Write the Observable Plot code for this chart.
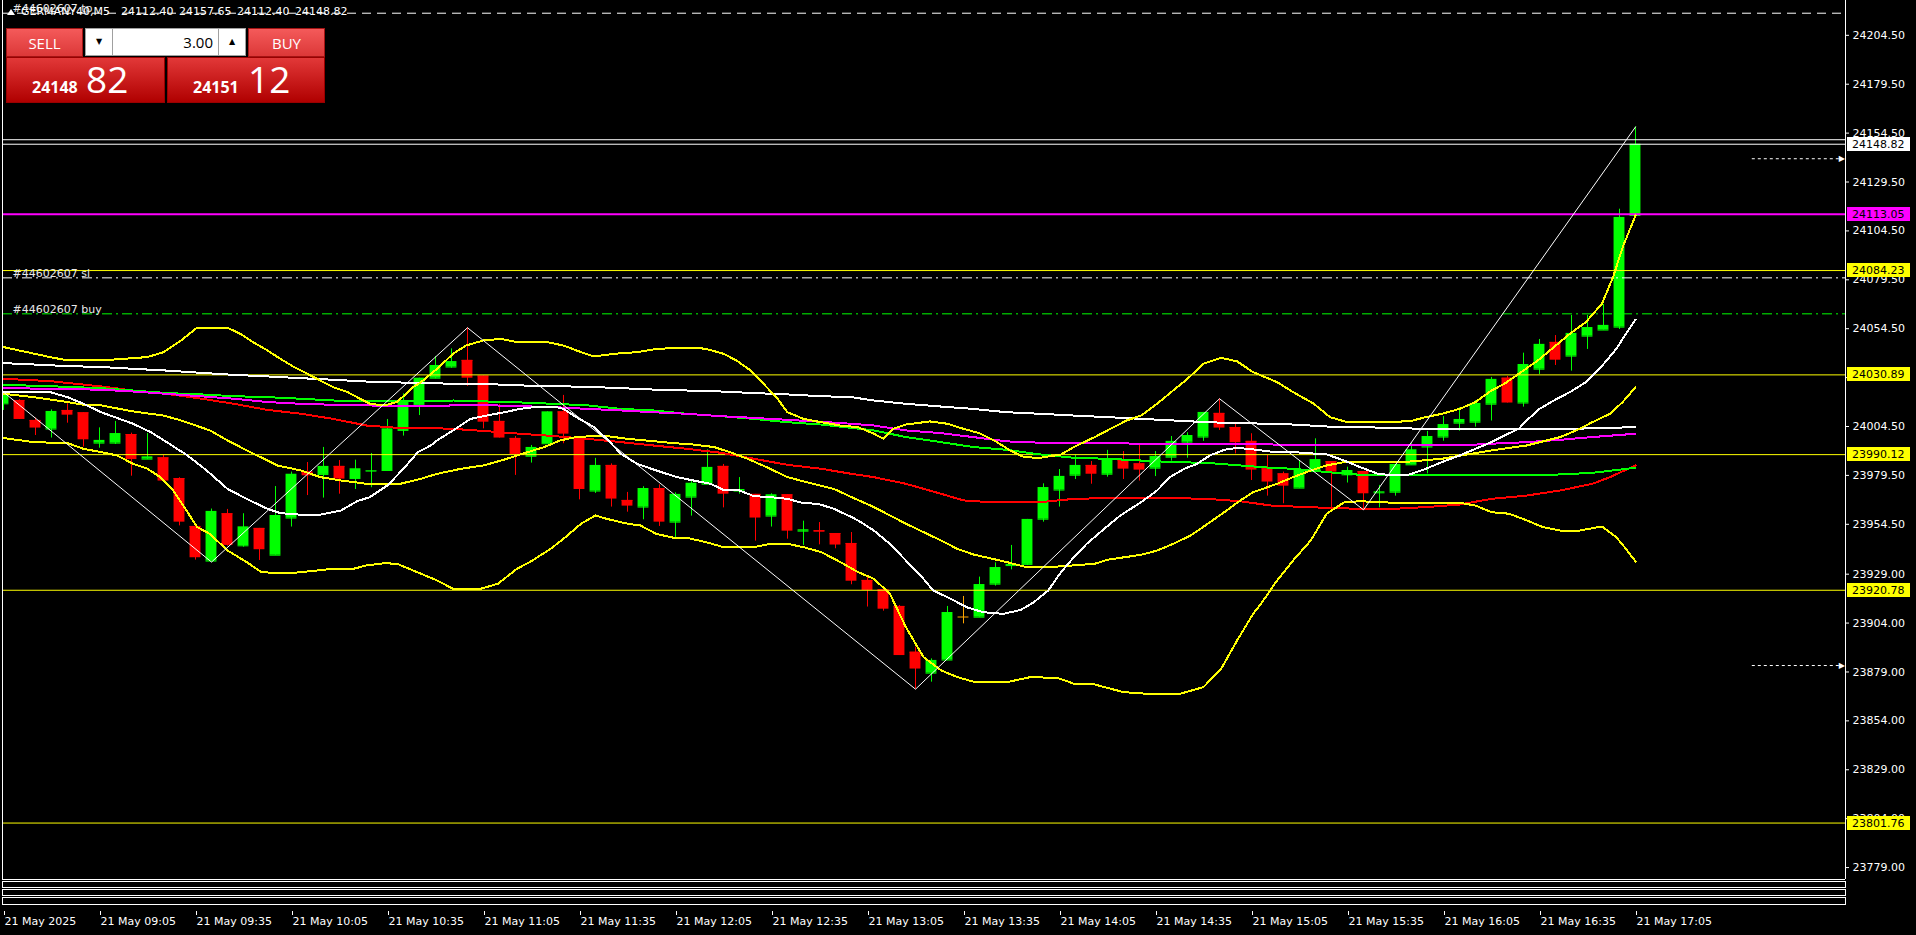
<!DOCTYPE html>
<html>
<head>
<meta charset="utf-8">
<script src="https://cdn.jsdelivr.net/npm/d3@7"></script>
<script src="https://cdn.jsdelivr.net/npm/@observablehq/plot@0.6"></script>
<style>
  html, body { margin:0; padding:0; background:#000; overflow:hidden; }
  #wrap { position:relative; width:1916px; height:935px; background:#000; font-family:"DejaVu Sans", sans-serif; }
  #chart svg { display:block; }
  .hdr { position:absolute; left:21px; top:5px; color:#fff; font-size:11px; line-height:13px; white-space:pre; word-spacing:2px; }
  .tri { position:absolute; left:7px; top:9px; width:0; height:0; border-left:4px solid transparent; border-right:4px solid transparent; border-bottom:6px solid #fff; }
  .sub { position:absolute; left:2px; width:1844px; border:1px solid #fff; box-sizing:border-box; }
  .p { position:absolute; box-sizing:border-box; }
  .btn { top:28px; height:29px; width:77px; background:linear-gradient(#f45a5a,#dc3838); color:#fff; font-family:"Open Sans",sans-serif; font-size:15px; text-align:center; line-height:28px; border:1px solid #a51414; }
  .spin { top:28px; height:28px; width:28px; background:#fff; border:1px solid #a0a0a0; color:#000; text-align:center; font-size:8px; line-height:26px; }
  .lot { left:113px; top:28px; width:105px; height:28px; background:#fff; border-top:1px solid #a0a0a0; border-bottom:1px solid #a0a0a0; text-align:right; padding-right:5px; font-family:"Open Sans",sans-serif; font-size:15px; line-height:27px; color:#000; }
  .pbox { top:57px; height:46px; background:linear-gradient(#e23838,#b00000); border:1px solid #9a0000; color:#fff; font-family:"Open Sans",sans-serif; }
  .small { position:absolute; left:25px; top:21px; font-size:16px; font-weight:bold; line-height:16px; }
  .big { position:absolute; top:2px; font-size:37px; line-height:37px; }
</style>
</head>
<body>
<div id="wrap">
  <div id="chart"></div>
</div>
<script>
// ---------- DATA ----------
const symbolTitle = "GERMANY40,M5  24112.40 24157.65 24112.40 24148.82";
const lotSize = "3.00";
const sellPrice = ["24148", "82"];
const buyPrice = ["24151", "12"];

// Candles, bar index 0 = 21 May 08:35, 5 minutes per bar
const opens  = [24016.1,24017.8,24007.6,24003.2,24012.7,24011.5,23996.0,23996.0,24000.4,23987.8,
                23988.5,23977.9,23953.4,23935.7,23959.9,23943.5,23952.4,23938.7,23957.7,23981.2,
                23980.0,23984.1,23977.9,23981.7,23982.0,24002.5,24015.3,24029.2,24034.9,24038.3,
                24030.3,24007.1,23998.4,23989.3,23995.7,24012.0,23998.7,23971.5,23984.6,23966.7,
                23963.3,23972.8,23955.6,23968.4,23975.0,23984.1,23971.5,23969.8,23958.7,23969.6,
                23951.0,23951.2,23949.8,23944.7,23925.8,23921.0,23912.5,23889.1,23878.4,23885.1,
                23907.1,23907.0,23923.9,23933.4,23934.0,23957.1,23972.0,23979.6,23984.6,23980.1,
                23987.1,23985.4,23983.2,23988.8,23996.5,23999.1,24011.2,24004.0,23996.9,23982.9,
                23980.3,23973.0,23982.0,23986.6,23979.8,23981.5,23970.6,23970.9,23984.9,23994.0,
                23999.1,24006.2,24006.7,24015.9,24029.2,24016.5,24033.8,24047.5,24040.5,24050.7,
                24053.8,24055.3,24112.40];
const highs  = [24022.1,24018.3,24008.8,24013.0,24016.1,24011.5,24003.8,24007.1,24001.1,24000.9,
                23989.7,23978.3,23953.7,23962.3,23962.1,23959.9,23952.4,23973.8,23981.2,23986.1,
                23993.8,23987.1,23987.3,23990.7,24008.1,24021.2,24029.2,24040.3,24044.2,24055.0,
                24030.3,24015.8,23999.4,23994.8,24012.0,24020.4,23999.4,23988.2,23985.4,23970.8,
                23973.7,23974.7,23970.6,23976.9,23992.6,23985.1,23978.4,23969.8,23970.1,23969.6,
                23956.1,23955.4,23949.8,23950.3,23927.8,23922.4,23913.0,23891.7,23885.7,23912.5,
                23917.6,23927.5,23934.8,23943.7,23957.0,23975.2,23982.5,23989.7,23986.6,23992.3,
                23991.7,23995.1,23991.7,23999.4,24001.3,24011.7,24018.7,24005.9,24000.8,23989.7,
                23981.2,23987.1,23998.2,23986.6,23983.7,23981.5,23974.4,23985.1,23995.7,24002.0,
                24009.6,24014.1,24017.8,24029.6,24030.1,24042.0,24049.0,24051.0,24061.3,24061.3,
                24066.9,24115.6,24157.65];
const lows   = [24012.7,24008.1,23999.9,23998.6,24006.2,23994.0,23993.4,23995.3,23979.1,23987.6,
                23976.1,23953.7,23936.2,23935.2,23943.3,23942.8,23936.0,23938.7,23953.1,23969.2,
                23967.9,23969.9,23972.3,23973.2,23981.7,23999.6,24010.1,24028.9,24034.3,24025.0,
                24003.3,23998.6,23979.5,23985.8,23995.7,23995.7,23967.0,23970.3,23963.3,23960.7,
                23956.8,23953.4,23947.4,23958.7,23975.0,23962.9,23969.9,23945.9,23953.1,23946.9,
                23943.7,23944.0,23942.0,23923.6,23912.2,23910.1,23887.4,23870.2,23873.8,23885.1,
                23903.6,23907.0,23922.9,23931.2,23933.4,23955.6,23963.3,23977.4,23975.0,23978.6,
                23977.4,23976.6,23978.9,23986.8,23988.3,23996.9,24002.5,23990.5,23976.9,23968.9,
                23965.0,23973.0,23982.0,23962.9,23975.6,23961.9,23962.9,23968.9,23984.9,23980.3,
                23997.0,24002.1,24004.2,24007.3,24016.5,24014.4,24031.1,24035.7,24032.8,24043.9,
                24053.8,24054.1,24112.40];
const closes = [24020.9,24008.1,24003.7,24012.2,24010.3,23997.7,23997.4,24000.9,23987.6,23989.0,
                23976.6,23955.6,23937.4,23961.1,23943.7,23953.2,23941.5,23959.0,23980.1,23979.3,
                23984.1,23977.6,23982.9,23982.0,24003.3,24017.8,24029.2,24035.7,24037.7,24029.2,
                24006.7,23998.6,23990.2,23993.8,24012.0,24000.6,23972.3,23984.6,23967.4,23963.8,
                23972.8,23955.6,23969.8,23975.5,23983.6,23969.9,23972.3,23957.7,23969.6,23951.0,
                23951.7,23950.5,23943.9,23925.4,23920.7,23911.1,23887.4,23880.5,23884.9,23909.4,
                23907.1,23923.7,23932.4,23934.0,23957.0,23973.3,23979.0,23984.6,23980.1,23987.3,
                23982.7,23982.2,23989.2,23996.9,23999.9,24011.7,24003.7,23996.2,23982.2,23976.1,
                23974.0,23982.4,23987.6,23981.2,23982.0,23970.1,23971.1,23985.1,23992.6,23999.4,
                24005.5,24008.1,24016.3,24028.6,24016.5,24036.2,24046.5,24038.4,24052.1,24055.1,
                24056.2,24111.4,24148.82];

// Indicators: [bar index, price]
const bbUpper = [[0,24045.1],[2.9,24040.0],[4.0,24038.3],[6.1,24038.3],[7.5,24039.1],[9.0,24040.0],[10.0,24042.5],[11.1,24048.5],[12.1,24055.0],[14.0,24055.0],[14.8,24051.9],[15.6,24047.6],[16.5,24043.4],[17.3,24039.1],[18.1,24035.2],[19.0,24031.4],[19.8,24028.0],[20.6,24024.6],[21.5,24022.1],[22.1,24019.5],[22.9,24016.1],[23.8,24015.3],[24.6,24017.0],[25.6,24024.6],
  [26.1,24027.2],[27.1,24034.0],[28.1,24041.7],[28.9,24045.9],[30.0,24048.5],[31.1,24049.3],[32.1,24047.6],[34.0,24047.6],[35.0,24045.9],[36.1,24042.5],[36.9,24040.3],[38.2,24041.7],[39.6,24042.5],[40.6,24043.9],[41.9,24044.7],[43.3,24044.7],[43.9,24044.2],[45.0,24041.7],[45.8,24038.3],[46.7,24033.1],[47.5,24026.3],[48.3,24019.5],[49.0,24011.8],[50.0,24008.4],[51.1,24006.7],[52.3,24005.0],
  [53.4,24004.2],[54.4,24000.8],[55.0,23998.2],[55.6,24003.3],[56.4,24005.5],[57.9,24007.1],[59.0,24005.9],[60.0,24003.3],[61.0,24001.1],[62.1,23996.5],[62.9,23992.3],[63.8,23988.8],[64.8,23988.5],[66.1,23990.2],[66.9,23994.0],[68.2,23999.1],[69.0,24002.5],[70.2,24007.6],[71.1,24010.1],[72.1,24016.1],[73.1,24022.9],[74.0,24028.9],[75.0,24036.6],[76.1,24039.6],[77.1,24037.8],[78.1,24032.3],
  [78.6,24030.6],[79.6,24027.2],[80.6,24022.1],[81.9,24016.1],[82.9,24009.3],[84.0,24006.7],[86.1,24006.7],[87.9,24007.2],[88.9,24009.3],[89.9,24011.0],[91.0,24013.5],[92.0,24017.0],[93.0,24022.9],[93.8,24026.3],[94.7,24031.4],[95.9,24038.3],[96.9,24045.1],[97.9,24051.9],[98.9,24057.9],[99.9,24067.2],[100.6,24080.9],[101.2,24096.2],[102.0,24112.4]];
const bbMiddle = [[0,24021.2],[1.9,24019.5],[4.0,24017.0],[5.0,24015.6],[6.1,24015.3],[8.1,24012.2],[10.0,24010.1],[11.1,24007.6],[12.9,24002.5],[14.0,23997.4],[15.2,23992.3],[16.5,23987.1],[17.1,23984.6],[18.6,23982.0],[19.8,23978.6],[21.1,23976.9],[22.7,23975.2],[23.8,23974.9],[24.8,23975.2],[26.1,23977.8],
  [27.1,23980.3],[28.6,23982.9],[30.0,23984.6],[31.1,23987.1],[32.3,23990.2],[33.8,23994.0],[34.8,23997.4],[35.8,23999.1],[36.9,23999.6],[37.7,23999.6],[39.0,23998.2],[40.6,23997.0],[41.9,23996.0],[43.1,23995.3],[44.4,23994.0],[45.4,23991.4],[46.5,23988.0],[47.7,23983.7],[49.0,23978.6],[50.6,23975.2],[51.9,23972.6],[53.0,23968.4],
  [54.4,23963.3],[56.4,23954.8],[58.6,23946.2],[59.6,23942.0],[60.6,23939.1],[62.7,23935.2],[63.8,23932.9],[65.9,23932.9],[68.2,23934.3],[69.0,23936.4],[71.1,23938.9],[72.1,23941.1],[73.1,23944.5],[74.2,23948.8],[75.2,23954.4],[76.3,23960.7],[77.3,23966.7],[78.1,23970.9],
  [79.6,23975.2],[80.6,23978.6],[81.7,23982.0],[82.7,23984.6],[84.0,23986.6],[85.9,23986.3],[87.9,23986.6],[89.9,23988.0],[92.0,23990.9],[93.0,23992.3],[95.2,23994.8],[97.3,23999.1],[98.3,24002.5],[99.3,24006.7],[100.4,24011.0],[101.2,24017.0],[102.0,24024.6]];
const bbLower = [[0,23998.6],[1.9,23996.5],[4.0,23996.0],[5.0,23993.1],[6.1,23991.4],[7.1,23989.7],[8.1,23985.4],[9.0,23982.9],[9.8,23978.6],[10.6,23971.8],[11.3,23963.3],[12.1,23953.1],[12.9,23949.6],[14.0,23941.1],[15.2,23935.2],[16.1,23930.1],[17.1,23929.5],[17.9,23929.5],[19.6,23930.9],[20.6,23931.8],[21.9,23931.8],[22.7,23933.5],[23.8,23934.6],[24.6,23934.3],[25.6,23930.9],
  [26.1,23929.2],[27.1,23925.8],[28.1,23921.5],[29.8,23921.5],[30.9,23924.1],[32.1,23931.8],[32.9,23935.2],[34.2,23942.0],[35.0,23947.1],[36.1,23954.8],[37.0,23959.0],[37.7,23957.3],[39.0,23954.8],[39.8,23953.9],[40.8,23949.6],[41.9,23947.6],[42.7,23947.6],[43.9,23945.4],[45.0,23942.8],[46.9,23942.8],[47.9,23944.5],[49.0,23944.5],[50.0,23942.8],[51.1,23940.3],[51.9,23936.9],
  [52.3,23935.2],[53.4,23930.1],[54.4,23926.6],[55.4,23919.0],[56.4,23901.9],[57.5,23886.6],[58.6,23879.8],[59.6,23876.4],[60.6,23874.1],[62.7,23873.8],[64.2,23876.4],[65.9,23875.9],[66.9,23873.0],[68.2,23872.6],[70.0,23868.7],[72.1,23867.5],[73.4,23867.5],[75.0,23871.3],[76.1,23880.6],[77.1,23895.1],[78.1,23908.7],
  [78.6,23913.9],[79.6,23925.8],[80.6,23936.0],[81.7,23946.2],[82.7,23959.9],[83.8,23965.8],[84.8,23966.3],[86.9,23965.5],[88.9,23965.5],[91.0,23965.5],[92.0,23964.1],[93.0,23960.7],[94.1,23959.9],[95.2,23956.5],[96.2,23953.1],[97.3,23951.3],[98.3,23951.0],[99.3,23952.5],[99.9,23953.4],[100.8,23947.9],[101.4,23942.0],[102.0,23935.5]];
const maFastWhite = [[0,24022.1],[2.9,24022.1],[4.0,24019.5],[5.0,24016.1],[6.1,24011.8],[8.1,24005.9],[9.2,24001.6],[10.2,23996.5],[11.5,23989.7],[12.7,23982.0],[14.0,23972.6],[15.2,23967.5],[16.5,23962.4],[17.3,23960.2],[18.6,23959.4],[19.8,23959.4],[21.1,23961.6],[22.1,23966.3],[22.9,23968.4],[24.0,23974.4],[25.0,23982.9],[25.9,23991.4],[26.7,23994.8],
  [27.1,23997.4],[28.1,24002.5],[29.2,24008.4],[30.2,24010.1],[31.3,24011.8],[32.3,24013.5],[33.4,24014.7],[34.4,24014.7],[35.0,24013.5],[35.8,24009.3],[36.9,24004.2],[37.7,23998.2],[38.6,23990.5],[39.6,23985.4],[41.1,23981.2],[42.1,23978.6],[43.3,23976.6],[44.2,23975.2],[45.0,23972.1],[46.0,23971.8],[46.9,23968.9],[47.9,23968.4],[49.0,23967.5],[50.0,23965.3],[50.9,23965.0],[51.9,23962.4],[53.0,23958.2],
  [53.4,23956.5],[54.4,23951.3],[55.4,23944.5],[56.4,23936.0],[57.5,23926.6],[58.1,23920.7],[59.2,23916.4],[60.2,23912.1],[61.2,23909.6],[62.5,23908.7],[63.6,23910.8],[64.4,23914.7],[65.3,23920.7],[66.1,23930.1],[66.9,23937.7],[67.7,23944.5],[68.8,23952.2],[69.8,23959.0],[71.1,23965.8],[72.1,23971.8],[72.9,23978.6],[73.8,23982.9],[74.6,23985.4],[75.4,23989.7],[76.3,23992.6],[77.1,23993.6],[78.1,23992.8],
  [79.2,23991.7],[80.6,23991.4],[82.7,23990.2],[83.8,23987.1],[84.8,23983.7],[85.9,23980.3],[86.9,23979.5],[87.9,23980.0],[88.9,23982.9],[89.9,23986.3],[91.0,23989.7],[92.0,23993.1],[93.0,23996.5],[93.8,23999.9],[94.7,24003.3],[95.2,24007.6],[96.0,24013.5],[96.9,24017.8],[97.9,24022.1],[98.9,24027.2],[99.9,24035.4],[100.8,24044.2],[101.4,24051.9],[102.0,24059.1]];
const maSlowWhite = [[0,24036.9],[1.9,24036.2],[4.0,24035.4],[6.1,24034.9],[8.1,24034.0],[10.2,24033.1],[12.4,24031.9],[14.4,24030.9],[16.5,24030.1],[18.6,24029.2],[20.6,24028.4],[22.7,24027.5],[24.8,24027.0],[26.7,24026.7],[28.1,24026.3],[30.2,24026.2],[32.3,24025.5],[34.4,24025.1],[36.5,24024.8],[38.6,24024.1],[40.6,24023.4],[42.7,24022.9],[44.8,24022.4],[46.9,24021.6],[49.0,24020.9],[51.1,24020.0],[53.0,24019.5],
  [54.4,24017.8],[56.4,24016.1],[58.6,24014.7],[60.6,24013.5],[62.7,24011.8],[64.8,24011.0],[66.9,24010.1],[69.0,24009.3],[71.1,24008.4],[73.1,24007.6],[75.2,24006.7],[77.3,24006.2],[79.2,24005.9],[80.6,24005.5],[82.7,24004.5],[84.8,24004.2],[86.9,24003.7],[88.9,24003.3],[91.0,24003.3],[95.2,24003.3],[99.3,24003.5],[102.0,24004.2]];
const maRed = [[0,24028.9],[2.9,24027.7],[6.1,24025.0],[8.1,24022.9],[10.2,24021.2],[12.4,24018.7],[14.4,24016.1],[16.5,24013.0],[18.6,24011.0],[20.6,24008.4],[22.7,24005.0],[24.8,24003.7],[26.7,24003.7],[28.1,24003.3],[30.2,24002.1],[32.3,24000.8],[34.4,23999.6],[36.5,23998.2],[38.6,23996.5],[40.6,23994.8],[42.7,23993.1],[44.8,23991.1],[46.9,23988.0],[49.0,23984.9],[51.1,23982.9],[53.0,23980.3],
  [54.4,23978.6],[56.4,23975.2],[58.6,23970.1],[60.0,23966.7],[61.7,23965.8],[64.8,23965.8],[66.9,23967.5],[69.0,23967.9],[73.1,23967.9],[75.2,23967.5],[77.3,23966.3],[79.2,23964.1],[80.6,23963.6],[82.7,23962.9],[84.8,23962.4],[86.9,23962.4],[88.9,23963.3],[91.0,23964.6],[93.0,23967.5],[95.2,23969.2],[97.3,23971.8],[99.3,23975.2],[100.4,23978.6],[102.0,23984.6]];
const maGreen = [[0,24025.8],[2.9,24025.1],[6.1,24024.1],[8.1,24022.9],[10.2,24021.6],[12.4,24020.9],[14.4,24020.0],[16.5,24019.5],[18.6,24018.7],[20.6,24017.8],[22.7,24017.5],[24.8,24017.3],[26.7,24017.3],[28.1,24017.8],[30.2,24017.3],[32.3,24016.8],[34.4,24016.1],[36.5,24015.3],[38.6,24013.5],[40.6,24012.7],[42.7,24011.0],[44.8,24009.8],[46.9,24008.4],[49.0,24006.7],[51.1,24005.5],[53.0,24003.8],
  [54.4,24002.5],[56.4,23999.1],[58.6,23996.5],[60.6,23994.0],[62.7,23992.6],[64.8,23990.2],[66.9,23988.5],[69.0,23988.0],[71.1,23987.1],[73.1,23986.3],[75.2,23985.9],[77.3,23984.6],[79.2,23983.4],[80.6,23982.9],[82.7,23981.2],[84.8,23979.8],[86.9,23979.5],[91.0,23979.5],[95.2,23979.5],[97.3,23980.0],[99.3,23980.8],[102.0,23983.4]];
const maMagenta = [[0,24024.1],[2.9,24023.8],[6.1,24023.3],[8.1,24022.4],[10.2,24021.2],[12.4,24019.9],[14.4,24018.7],[16.5,24017.0],[18.6,24016.1],[20.6,24015.6],[22.7,24015.3],[24.8,24014.9],[26.7,24014.9],[28.1,24015.3],[30.2,24015.4],[32.3,24014.9],[34.4,24014.4],[36.5,24013.5],[38.6,24012.7],[40.6,24011.8],[42.7,24011.0],[44.8,24009.8],[46.9,24008.9],[49.0,24007.9],[51.1,24006.9],[53.0,24005.9],
  [54.4,24005.0],[56.4,24002.5],[58.6,24001.1],[60.6,23999.1],[62.7,23996.9],[64.8,23996.2],[66.9,23996.0],[69.0,23996.0],[71.1,23995.7],[75.2,23995.7],[77.3,23995.7],[79.2,23995.3],[82.7,23995.1],[86.9,23994.8],[91.0,23994.8],[93.0,23995.7],[95.2,23996.5],[97.3,23997.7],[99.3,23999.1],[102.0,24000.8]];
const zigzag = [[0,24022.1],[13,23935.2],[29,24055.0],[57,23870.2],[76,24018.7],[85,23961.9],[102,24157.65]];

// Horizontal levels
const yellowLevels = [24084.23, 24030.89, 23990.12, 23920.78, 23801.76];
const magentaLevel = 24113.05;
const bidAsk = [24148.82, 24151.12];
const tpLine = {label: "#44602607 tp", price: 24215.8};
const slLine = {label: "#44602607 sl", price: 24080.5};
const buyLine = {label: "#44602607 buy", price: 24062.1};
const alertArrows = [{price: 24141.4, from: 109.3, to: 114.9}, {price: 23882.3, from: 109.3, to: 114.9}];
const priceTags = [
  {price: 24148.82, bg: "#ffffff"}, {price: 24113.05, bg: "#ff00ff"},
  {price: 24084.23, bg: "#ffff00"}, {price: 24030.89, bg: "#ffff00"},
  {price: 23990.12, bg: "#ffff00"}, {price: 23920.78, bg: "#ffff00"}, {price: 23801.76, bg: "#ffff00"}
];

// Axes
const yTicks = [24204.5, 24179.5, 24154.5, 24129.5, 24104.5, 24079.5, 24054.5, 24029.5, 24004.5, 23979.5, 23954.5, 23929.0, 23904.0, 23879.0, 23854.0, 23829.0, 23804.0, 23779.0];
const xTickBars = [0, 6, 12, 18, 24, 30, 36, 42, 48, 54, 60, 66, 72, 78, 84, 90, 96, 102];
const xTickLabels = ["21 May 2025","21 May 09:05","21 May 09:35","21 May 10:05","21 May 10:35","21 May 11:05","21 May 11:35","21 May 12:05","21 May 12:35","21 May 13:05","21 May 13:35","21 May 14:05","21 May 14:35","21 May 15:05","21 May 15:35","21 May 16:05","21 May 16:35","21 May 17:05"];

// ---------- CHART ----------
const W = 1916, H = 935;
const xDomain = [-0.0625, 115.125];
const yDomain = [23772.9, 24222.3];
const BULL = "#00ff00", BEAR = "#ff0000", DOJI = "#ffa500";
const BODY = 0.34;

const candles = opens.map((o, i) => ({i, o, h: highs[i], l: lows[i], c: closes[i]}));
const ccol = d => d.c > d.o ? BULL : (d.c < d.o ? BEAR : DOJI);
const ln = (data, color, w = 2) => Plot.line(data, {x: d => d[0], y: d => d[1], stroke: color, strokeWidth: w, clip: true, shapeRendering: "crispEdges"});
const orderRule = (line, color, dash) => Plot.ruleY([line], {y: "price", stroke: color, strokeWidth: 1, strokeDasharray: dash});
const orderText = line => Plot.text([line], {x: xDomain[0], y: "price", text: "label", dx: 10, dy: -1, textAnchor: "start", lineAnchor: "bottom", fill: "#e8e8e8", fontSize: 11});

const chart = Plot.plot({
  width: W, height: H,
  marginLeft: 2, marginRight: 71, marginTop: 0, marginBottom: 56,
  x: {type: "linear", domain: xDomain},
  y: {type: "linear", domain: yDomain},
  style: {background: "#000", color: "#fff", fontFamily: "DejaVu Sans, sans-serif", fontSize: "11px", overflow: "visible"},
  marks: [
    // candles
    Plot.ruleX(candles, {x: "i", y1: "l", y2: "h", stroke: ccol, strokeWidth: 1, clip: true}),
    Plot.rect(candles, {x1: d => d.i - BODY, x2: d => d.i + BODY, y1: "o", y2: "c", fill: ccol, clip: true}),
    Plot.ruleY(candles, {x1: d => d.i - BODY, x2: d => d.i + BODY, y: "o", stroke: ccol, clip: true}),
    // levels
    Plot.ruleY(yellowLevels, {stroke: "#ffff00", strokeWidth: 1}),
    Plot.ruleY([magentaLevel], {stroke: "#ff00ff", strokeWidth: 2}),
    Plot.ruleY(bidAsk, {stroke: "#ffffff", strokeWidth: 1}),
    orderRule(tpLine, "#ffffff", "9,6"),
    orderRule(slLine, "#ffffff", "10,4,2,4"),
    orderRule(buyLine, "#00ff00", "10,4,2,4"),
    orderText(tpLine), orderText(slLine), orderText(buyLine),
    // indicators
    ln(maSlowWhite, "#ffffff"),
    ln(maRed, "#ff0000"),
    ln(maGreen, "#00ff00"),
    ln(maMagenta, "#ff00ff"),
    ln(bbUpper, "#ffff00"),
    ln(bbMiddle, "#ffff00"),
    ln(bbLower, "#ffff00"),
    ln(maFastWhite, "#ffffff"),
    Plot.line(zigzag, {x: d => d[0], y: d => d[1], stroke: "#ffffff", strokeWidth: 1, clip: true}),
    // alert arrows
    Plot.ruleY(alertArrows, {x1: "from", x2: "to", y: "price", stroke: "#ffffff", strokeDasharray: "3,3"}),
    Plot.text(alertArrows, {x: "to", y: "price", text: () => "\u25B6", fill: "#ffffff", fontSize: 8, textAnchor: "end", dx: 3}),
    // frame sides
    Plot.ruleX([xDomain[0], xDomain[1]], {stroke: "#ffffff"}),
    Plot.ruleY([yDomain[0]], {stroke: "#ffffff"}),
    // axes
    Plot.axisY({anchor: "right", ticks: yTicks, tickFormat: d => d.toFixed(2), tickSize: 3, tickPadding: 4, textAnchor: "start", fill: "#ffffff", stroke: "#ffffff"}),
    Plot.axisX({anchor: "bottom", ticks: xTickBars, tickFormat: d => xTickLabels[xTickBars.indexOf(d)], tickSize: 4, tickPadding: 2, dy: 32, textAnchor: "start", dx: 1, fill: "#ffffff", stroke: "#ffffff"})
  ]
});
document.getElementById("chart").appendChild(chart);

// price tags on the right axis, placed with the chart's own y scale
const ys = chart.scale("y");
const yf = ys.apply ? v => ys.apply(v) : d3.scaleLinear(ys.domain, ys.range);
const tg = d3.select(chart).append("g")
  .attr("font-family", "DejaVu Sans, sans-serif").attr("font-size", 11).attr("text-anchor", "start");
priceTags.forEach(t => {
  const y = Math.round(yf(t.price));
  tg.append("rect").attr("x", 1847).attr("y", y - 7).attr("width", 63).attr("height", 14).attr("fill", t.bg);
  tg.append("text").attr("x", 1852).attr("y", y + 4).attr("text-anchor", "start").attr("fill", "#000").text(t.price.toFixed(2));
});

// ---------- HTML overlays (sub-windows, header, trade panel) ----------
const wrap = document.getElementById("wrap");
function el(cls, css, html) { const d = document.createElement("div"); d.className = cls; Object.assign(d.style, css || {}); if (html != null) d.innerHTML = html; wrap.appendChild(d); return d; }
el("sub", {top: "881px", height: "7px"});
el("sub", {top: "889px", height: "7px"});
el("sub", {top: "897px", height: "8px"});
el("tri");
el("hdr", {}, symbolTitle);
el("p btn", {left: "6px"}, "SELL");
el("p btn", {left: "248px"}, "BUY");
el("p spin", {left: "85px"}, "\u25BC");
el("p spin", {left: "218px"}, "\u25B2");
el("p lot", {}, lotSize);
el("p pbox", {left: "6px", width: "159px"}, `<span class="small">${sellPrice[0]}</span><span class="big" style="left:79px">${sellPrice[1]}</span>`);
el("p pbox", {left: "167px", width: "158px"}, `<span class="small">${buyPrice[0]}</span><span class="big" style="left:80px">${buyPrice[1]}</span>`);
</script>
</body>
</html>
